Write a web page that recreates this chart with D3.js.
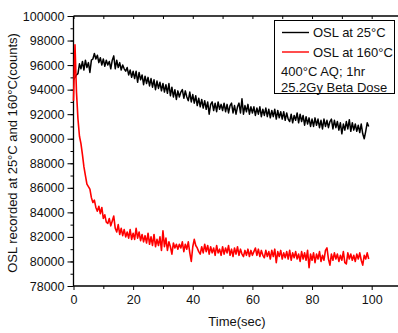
<!DOCTYPE html>
<html lang="en">
<head>
<meta charset="UTF-8">
<title>OSL at 25°C and 160°C</title>
<script src="https://d3js.org/d3.v7.min.js"></script>
<style>
  body { margin: 0; background: #fff; }
  svg text { font-family: "Liberation Sans", Arial, sans-serif; fill: #111; }
</style>
</head>
<body>
<div id="chart"></div>
<script>
const timeStep = 0.5;

const osl25 = [
  94800, 95000, 95200, 95300, 96100, 95700, 96300, 95600, 96400, 95800,
  96200, 95400, 96400, 96500, 96950, 96500, 96800, 96200, 96600, 96000,
  96500, 95900, 96400, 96000, 96300, 95700, 96400, 96750, 95700, 96400,
  95800, 96200, 95600, 96000, 95700, 95500, 95800, 95200, 95600, 95000,
  95500, 94900, 95500, 94600, 95400, 94800, 95200, 94400, 95100, 94500,
  95000, 94300, 94900, 94200, 94800, 94000, 94700, 94100, 94600, 93900,
  94500, 93800, 94400, 93700, 94500, 93500, 94200, 93400, 94000, 93200,
  93900, 93400, 93800, 94000, 93300, 93900, 93400, 93100, 93800, 93000,
  93600, 92900, 93500, 92700, 93300, 92600, 93200, 92500, 93100, 92400,
  93000, 92000, 92800, 93000, 92300, 92900, 92200, 93000, 92400, 92800,
  92300, 92900, 92200, 92800, 92100, 92700, 92900, 92100, 92700, 92000,
  92600, 92900, 92100, 93250, 92000, 92700, 92200, 92800, 92000, 92600,
  92100, 92600, 91900, 92500, 92000, 92600, 91800, 92400, 91900, 92500,
  91800, 92400, 91700, 92300, 91800, 92400, 91600, 92300, 91700, 92200,
  91600, 92200, 91500, 92100, 91600, 91400, 92000, 91300, 91900, 91500,
  92100, 91300, 92000, 91400, 91900, 91100, 91800, 91200, 91700, 91000,
  91600, 91000, 91700, 91100, 91600, 90900, 91500, 90800, 91600, 91000,
  91500, 90900, 91400, 91600, 90800, 91500, 90900, 91400, 90700, 91300,
  90400, 91200, 90700, 91400, 90800, 91550, 90600, 91300, 90700, 91200,
  90600, 91100, 90500, 91200, 90400, 90000, 90600, 91300, 91000
];

const osl160 = [
  93100, 97650, 93800, 91600, 90200, 89600, 88700, 87700, 87000, 86300,
  86100, 85900, 85200, 84800, 85000, 84400, 84100, 84500, 83900, 84400,
  83500, 83800, 83200, 83100, 83500, 82900, 83300, 83700, 82700, 82400,
  83000, 82200, 82700, 82100, 82600, 82000, 82400, 81900, 82600, 81800,
  82300, 81800, 82700, 81900, 82400, 81700, 82200, 81600, 82100, 81500,
  82300, 81400, 82000, 81300, 82200, 81200, 81800, 81300, 82000, 80900,
  82500, 81200, 81900, 80900, 81600, 81200, 80600, 81500, 81100, 81400,
  81000, 81400, 81100, 81600, 80800, 81400, 81000, 81600, 80700, 80000,
  81200, 81800, 81300, 81100, 80800, 80600, 81200, 80700, 81400, 80800,
  81300, 80600, 81200, 80700, 81100, 80500, 81300, 80700, 81000, 80500,
  81200, 80600, 81100, 80700, 81300, 80500, 81000, 80400, 81100, 80600,
  81200, 80500, 81000, 80600, 80400, 80900, 80500, 81000, 80400, 80900,
  80500, 80800, 81100, 80500, 81000, 80400, 80900, 80500, 80300, 80900,
  80400, 80800, 80200, 80900, 80400, 81000, 79900, 80800, 80400, 80900,
  80200, 80700, 80300, 80800, 80200, 80900, 80100, 80700, 80300, 80800,
  80200, 80600, 80000, 80800, 80200, 80700, 80100, 80900, 79500, 80600,
  80100, 80700, 79900, 80600, 80200, 80800, 80000, 80500, 80100, 80900,
  81100, 80200, 79700, 80600, 80100, 80700, 80200, 80600, 80000, 80500,
  80100, 80800, 79900, 79800, 80700, 80200, 80600, 80100, 80500, 80000,
  80600, 80200, 80700, 80100, 79700, 80500, 80200, 80700, 80200
];

const xTicks = [0, 20, 40, 60, 80, 100];
const xMinor = [10, 30, 50, 70, 90];
const yTicks = [78000, 80000, 82000, 84000, 86000, 88000, 90000, 92000, 94000, 96000, 98000, 100000];

const legendItems = [
  { label: "OSL at 25°C", color: "#000" },
  { label: "OSL at 160°C", color: "#ff0000" }
];
const notes = ["400°C AQ; 1hr", "25.2Gy Beta Dose"];

const W = 398, H = 333;
const plotLeft = 73.5, plotTop = 16, plotBottom = 286;

const svg = d3.select("#chart").append("svg")
  .attr("width", W)
  .attr("height", H);

const x = d3.scaleLinear().domain([0, 110]).range([plotLeft, plotLeft + 328]);
const y = d3.scaleLinear().domain([78000, 100000]).range([plotBottom, plotTop]);

// frame top line
svg.append("line")
  .attr("x1", plotLeft).attr("x2", W + 5)
  .attr("y1", plotTop).attr("y2", plotTop)
  .attr("stroke", "#000").attr("stroke-width", 1.3);

// y axis: minor then major
const gy = svg.append("g").attr("transform", `translate(${plotLeft},0)`);
gy.call(d3.axisLeft(y).ticks(22).tickSize(3).tickFormat(""))
  .call(g => g.select(".domain").remove());
gy.append("g")
  .call(d3.axisLeft(y).tickValues(yTicks).tickSize(6).tickPadding(3).tickFormat(d3.format("d")))
  .call(g => g.select(".domain").attr("stroke-width", 1.3).attr("d", `M0,${plotBottom}V${plotTop}`));
gy.selectAll("line").attr("stroke-width", 1);
gy.selectAll("text").attr("font-size", 12.5);

const gx = svg.append("g").attr("transform", `translate(0,${plotBottom})`);
gx.call(d3.axisBottom(x).tickValues(xMinor).tickSize(3).tickFormat(""))
  .call(g => g.select(".domain").remove());
gx.append("g")
  .call(d3.axisBottom(x).tickValues(xTicks).tickSize(4).tickPadding(5))
  .call(g => g.select(".domain").attr("stroke-width", 1.3).attr("d", `M${plotLeft},0H${W + 5}`));
gx.selectAll("line").attr("stroke-width", 1);
gx.selectAll("text").attr("font-size", 12.5);

// top axis ticks, inward
svg.append("g").attr("transform", `translate(0,${plotTop})`)
  .call(d3.axisTop(x).tickValues(xTicks.concat(xMinor)).tickSize(-3).tickFormat(""))
  .call(g => g.select(".domain").remove())
  .selectAll("line").attr("stroke-width", 1);

const line = d3.line()
  .x((d, i) => x(i * timeStep))
  .y(d => y(d));

svg.append("path")
  .datum(osl25)
  .attr("fill", "none")
  .attr("stroke", "#000")
  .attr("stroke-width", 1.5)
  .attr("stroke-linejoin", "round")
  .attr("d", line);

svg.append("path")
  .datum(osl160)
  .attr("fill", "none")
  .attr("stroke", "#ff0000")
  .attr("stroke-width", 1.6)
  .attr("stroke-linejoin", "round")
  .attr("d", line);

// axis titles
svg.append("text")
  .attr("x", 237).attr("y", 326)
  .attr("text-anchor", "middle")
  .attr("font-size", 13)
  .text("Time(sec)");

svg.append("text")
  .attr("transform", "translate(16.5,153) rotate(-90)")
  .attr("text-anchor", "middle")
  .attr("font-size", 13)
  .text("OSL recorded at 25°C and 160°C(counts)");

// legend
const lg = svg.append("g");
lg.append("rect")
  .attr("x", 274.5).attr("y", 20.5)
  .attr("width", 120).attr("height", 73)
  .attr("fill", "#fff")
  .attr("stroke", "#000").attr("stroke-width", 1);

legendItems.forEach((it, i) => {
  const cy = 32.5 + i * 19.5;
  lg.append("line")
    .attr("x1", 282).attr("x2", 309)
    .attr("y1", cy).attr("y2", cy)
    .attr("stroke", it.color).attr("stroke-width", 1.4);
  lg.append("text")
    .attr("x", 313).attr("y", cy + 4.5)
    .attr("font-size", 13)
    .text(it.label);
});

notes.forEach((t, i) => {
  lg.append("text")
    .attr("x", 281).attr("y", 76 + i * 16)
    .attr("font-size", 13)
    .text(t);
});
</script>
</body>
</html>
